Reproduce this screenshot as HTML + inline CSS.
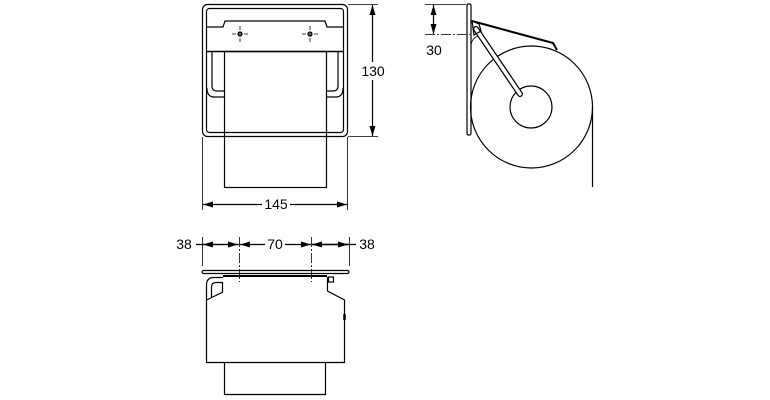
<!DOCTYPE html>
<html><head><style>
html,body{margin:0;padding:0;background:#fff;width:770px;height:400px;overflow:hidden}
text{font-family:"Liberation Sans",Arial,sans-serif;font-size:14px;fill:#000}
</style></head><body>
<svg width="770" height="400" viewBox="0 0 770 400" xmlns="http://www.w3.org/2000/svg">
<defs>
<marker id="a" viewBox="0 0 10 6" refX="10" refY="3" markerWidth="10" markerHeight="6" orient="auto-start-reverse" markerUnits="userSpaceOnUse"><path d="M0,0 L10,3 L0,6 Z" fill="#000"/></marker>
</defs>
<g fill="none" stroke="#000" stroke-width="1.2">
<!-- FRONT VIEW -->
<rect x="202.5" y="4.5" width="145" height="132" rx="5"/>
<rect x="206.5" y="8.5" width="137" height="124" rx="3"/>
<path d="M206.5,27 H223 L225,21 H325 L327,27 H343.5"/>
<line x1="206.5" y1="51.5" x2="343.5" y2="51.5" stroke-width="1.6"/>
<rect x="224.5" y="51.5" width="102" height="136"/>
<path d="M212,52 V86 Q212,91 217,91 H224.5"/>
<path d="M338,52 V86 Q338,91 333,91 H326.5"/>
<path d="M207,88 Q207,97 214,97 H224.5"/>
<path d="M343,88 Q343,97 336,97 H326.5"/>
<g stroke-width="0.8" stroke-dasharray="4,2">
<line x1="240" y1="26" x2="240" y2="43"/><line x1="232" y1="34" x2="249" y2="34"/>
<line x1="310" y1="26" x2="310" y2="43"/><line x1="302" y1="34" x2="319" y2="34"/>
</g>
<circle cx="240" cy="34" r="2"/><circle cx="310" cy="34" r="2"/>
<line x1="348" y1="4.5" x2="378" y2="4.5" stroke-width="0.8"/>
<line x1="348" y1="136.5" x2="378" y2="136.5" stroke-width="0.8"/>
<line x1="372.5" y1="5" x2="372.5" y2="62" marker-start="url(#a)"/>
<line x1="372.5" y1="80" x2="372.5" y2="136" marker-end="url(#a)"/>
<line x1="202.5" y1="137" x2="202.5" y2="210" stroke-width="0.8"/>
<line x1="347.5" y1="137" x2="347.5" y2="210" stroke-width="0.8"/>
<line x1="203" y1="204.5" x2="262" y2="204.5" marker-start="url(#a)"/>
<line x1="290" y1="204.5" x2="347" y2="204.5" marker-end="url(#a)"/>

<!-- SIDE VIEW -->
<rect x="467" y="4" width="4" height="131" rx="1.5"/>
<line x1="425" y1="4.5" x2="466" y2="4.5" stroke-width="0.8"/>
<line x1="425" y1="34.5" x2="470" y2="34.5" stroke-width="0.8" stroke-dasharray="10,2,2,2"/>
<line x1="433.5" y1="5" x2="433.5" y2="34" marker-start="url(#a)" marker-end="url(#a)"/>
<circle cx="531.5" cy="107" r="61"/>
<circle cx="531" cy="107" r="21"/>
<line x1="592.5" y1="107" x2="592.5" y2="187"/>
<line x1="476" y1="29" x2="520" y2="94" stroke-width="6" stroke-linecap="round"/>
<line x1="476" y1="29" x2="520" y2="94" stroke="#fff" stroke-width="3.5" stroke-linecap="round"/>
<path d="M472,21 L553,43 L557,50" stroke-width="2"/>
<path d="M472,21 L479,24 L481,31 L474,35 Z"/>
<path d="M471,45 Q472,38 478,36" stroke-width="0.8"/>

<!-- BOTTOM VIEW -->
<line x1="202.5" y1="237" x2="202.5" y2="266" stroke-width="0.8"/>
<line x1="349.5" y1="237" x2="349.5" y2="266" stroke-width="0.8"/>
<line x1="239.5" y1="237" x2="239.5" y2="282" stroke-width="0.8" stroke-dasharray="10,2,2,2"/>
<line x1="311.5" y1="237" x2="311.5" y2="282" stroke-width="0.8" stroke-dasharray="10,2,2,2"/>
<line x1="196" y1="244.5" x2="238" y2="244.5" marker-end="url(#a)"/>
<line x1="203" y1="244.5" x2="239" y2="244.5" marker-start="url(#a)"/>
<line x1="240" y1="244.5" x2="265" y2="244.5" marker-start="url(#a)"/>
<line x1="285" y1="244.5" x2="311" y2="244.5" marker-end="url(#a)"/>
<line x1="312" y1="244.5" x2="349" y2="244.5" marker-start="url(#a)"/>
<line x1="312" y1="244.5" x2="356" y2="244.5"/>
<line x1="312" y1="244.5" x2="348" y2="244.5" marker-end="url(#a)"/>
<rect x="202" y="270.5" width="147" height="3" rx="1.5"/>
<line x1="223" y1="276" x2="327" y2="276" stroke-width="2"/>
<path d="M206.5,300 V285 Q206.5,277.5 214,277.5 H223"/>
<path d="M211.5,297 V287 Q211.5,282.5 216,282.5 H222.5 V292"/>
<path d="M206.5,300 L223,292"/>
<path d="M327.5,277 V291 L344.5,300 V362.5 H206.5 V300"/>
<rect x="328.5" y="277" width="5" height="5"/>
<line x1="344.5" y1="314" x2="344.5" y2="320" stroke-width="2.5"/>
<path d="M224.5,362.5 V394.5 H325.5 V362.5"/>
</g>
<g>
<rect x="361" y="62" width="24" height="18" fill="#fff"/>
<text x="373" y="76" text-anchor="middle">130</text>
<text x="276" y="209" text-anchor="middle">145</text>
<text x="434" y="55" text-anchor="middle">30</text>
<text x="184" y="249" text-anchor="middle">38</text>
<text x="275" y="249" text-anchor="middle">70</text>
<text x="367" y="249" text-anchor="middle">38</text>
</g>
</svg>
</body></html>
